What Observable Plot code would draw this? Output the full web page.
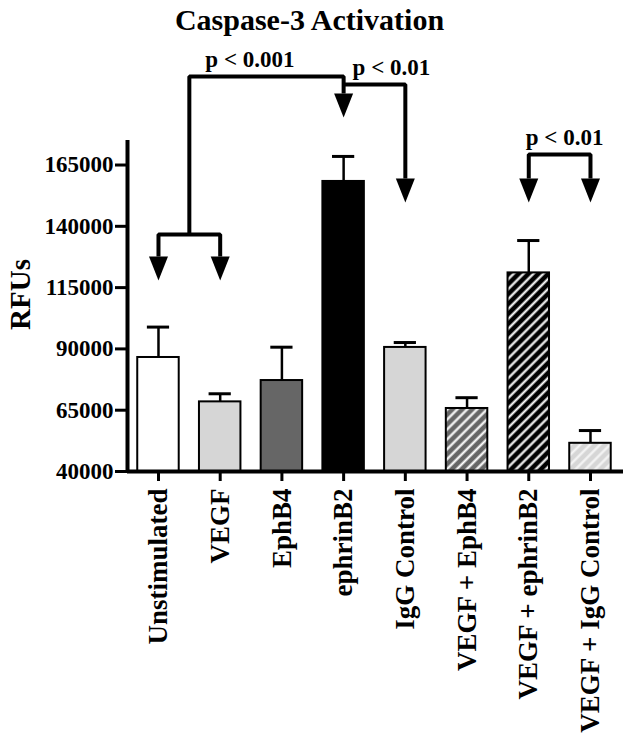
<!DOCTYPE html>
<html><head><meta charset="utf-8">
<script src="https://cdn.jsdelivr.net/npm/d3@7"></script>
<script src="https://cdn.jsdelivr.net/npm/@observablehq/plot@0.6"></script>
<style>
body{margin:0;background:#fff;}
#title{font-family:"Liberation Serif","Times New Roman",serif;font-weight:bold;font-size:30px;height:40px;line-height:40px;text-align:center;width:629px;padding-right:10px;box-sizing:border-box;color:#000;}
</style></head><body>
<div id="title">Caspase-3 Activation</div>
<div id="chart"></div>
<script>
// ---- data ----
const categories = ["Unstimulated","VEGF","EphB4","ephrinB2","IgG Control","VEGF + EphB4","VEGF + ephrinB2","VEGF + IgG Control"];
const means  = [86500, 68400, 77100, 158300, 90600, 65700, 121000, 51500];
const errors = [12400,  3300, 13600,  10200,  2000,  4400,  13200,  5200];
const yTicks = [40000, 65000, 90000, 115000, 140000, 165000];
const yTop = 175000;

// significance brackets: points given as [category (or pair -> midpoint), RFU]
const bracketPaths = [
  [["Unstimulated",127700],["Unstimulated",136700],["VEGF",136700],["VEGF",127700]],
  [[["Unstimulated","VEGF"],136700],[["Unstimulated","VEGF"],201100],["ephrinB2",201100],["ephrinB2",194200]],
  [["ephrinB2",197800],["IgG Control",197800],["IgG Control",159500]],
  [["VEGF + ephrinB2",159500],["VEGF + ephrinB2",169300],["VEGF + IgG Control",169300],["VEGF + IgG Control",159500]]
];
const arrowHeads = [["Unstimulated",127700],["VEGF",127700],["ephrinB2",194200],["IgG Control",159500],["VEGF + ephrinB2",159500],["VEGF + IgG Control",159500]];
const pTexts = ["p < 0.001", "p < 0.01", "p < 0.01"];
const pAnchors = [[["Unstimulated","VEGF"],201100],["ephrinB2",197800],["VEGF + ephrinB2",169300]];

// ---- styles ----
const barFill = {
  "Unstimulated": "#ffffff",
  "VEGF": "#d6d6d6",
  "EphB4": "#666666",
  "ephrinB2": "#000000",
  "IgG Control": "#d6d6d6",
  "VEGF + EphB4": "url(#hatchDark)",
  "VEGF + ephrinB2": "url(#hatchBlack)",
  "VEGF + IgG Control": "url(#hatchLight)"
};
const labelNudge = [16, 9, -3];
const barHalf = 0.336, capHalf = 0.18;

// ---- derived tables ----
const idx = c => Array.isArray(c) ? d3.mean(c, n => categories.indexOf(n)) : categories.indexOf(c);
const bars = categories.map((name, i) => ({name, i, mean: means[i], err: errors[i]}));
const bracketPts = bracketPaths.flatMap((p, k) => p.map(([c, v]) => ({k, x: idx(c), y: v})));
const arrows = arrowHeads.map(([c, v]) => ({x: idx(c), y: v}));
const labels = pTexts.map((t, k) => ({t, x: idx(pAnchors[k][0]), y: pAnchors[k][1]}));
const xDomain = [-0.502, categories.length - 0.465];
const base = yTicks[0];

const arrowSymbol = {draw(ctx) { ctx.moveTo(-9.5, 0); ctx.lineTo(9.5, 0); ctx.lineTo(0, 24); ctx.closePath(); }};

const svg = Plot.plot({
  width: 629,
  height: 703,
  marginLeft: 127,
  marginRight: 6,
  marginTop: 100,
  marginBottom: 272,
  style: {fontFamily: '"Liberation Serif","Times New Roman",serif', fontWeight: "bold", color: "#000", background: "#fff", overflow: "visible"},
  x: {type: "linear", domain: xDomain, axis: null},
  y: {domain: [base, yTop], axis: null},
  color: {type: "identity"},
  marks: [
    Plot.rectY(bars, {x1: d => d.i - barHalf, x2: d => d.i + barHalf, y1: base, y2: "mean", fill: d => barFill[d.name], stroke: "#000", strokeWidth: 2}),
    Plot.ruleX(bars, {x: "i", y1: "mean", y2: d => d.mean + d.err, stroke: "#000", strokeWidth: 2.5}),
    Plot.ruleY(bars, {y: d => d.mean + d.err, x1: d => d.i - capHalf, x2: d => d.i + capHalf, stroke: "#000", strokeWidth: 3}),
    Plot.ruleY([base], {stroke: "#000", strokeWidth: 4}),
    Plot.ruleX([xDomain[0]], {y1: base, y2: yTop, stroke: "#000", strokeWidth: 4}),
    Plot.axisY(yTicks, {tickFormat: d => String(d), tickSize: 12, tickPadding: 2, fontSize: 23, strokeWidth: 3, label: null}),
    Plot.axisX(d3.range(categories.length), {tickFormat: i => categories[i], tickRotate: -90, tickSize: 10, tickPadding: 7, fontSize: 27, strokeWidth: 3, label: null}),
    Plot.text(["RFUs"], {text: d => d, frameAnchor: "left", textAnchor: "middle", rotate: -90, fontSize: 29, dx: -107, dy: -11.5}),
    Plot.line(bracketPts, {x: "x", y: "y", z: "k", stroke: "#000", strokeWidth: 4, strokeLinejoin: "miter", strokeLinecap: "butt"}),
    Plot.dot(arrows, {x: "x", y: "y", symbol: arrowSymbol, r: 5, fill: "#000", stroke: "none"}),
    ...labels.map((l, k) => Plot.text([l], {x: "x", y: "y", text: "t", textAnchor: "start", dx: labelNudge[k], dy: -17, fontSize: 23}))
  ]
});

const defs = d3.select(svg).insert("defs", ":first-child");
function hatch(id, baseColor, stripe) {
  const p = defs.append("pattern").attr("id", id).attr("patternUnits", "userSpaceOnUse")
    .attr("width", 7).attr("height", 7).attr("patternTransform", "rotate(45)");
  p.append("rect").attr("width", 7).attr("height", 7).attr("fill", baseColor);
  p.append("line").attr("x1", 3.5).attr("y1", -1).attr("x2", 3.5).attr("y2", 8).attr("stroke", stripe).attr("stroke-width", 2.2);
}
hatch("hatchDark", "#666666", "#ffffff");
hatch("hatchBlack", "#000000", "#ffffff");
hatch("hatchLight", "#d6d6d6", "#f6f6f6");

document.getElementById("chart").appendChild(svg);
</script>
</body></html>
